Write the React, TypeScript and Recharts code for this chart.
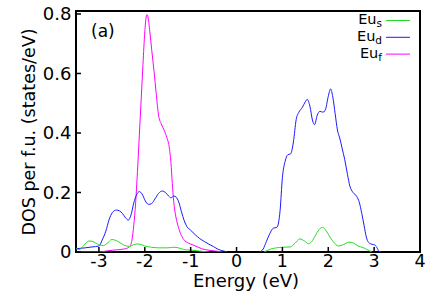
import React from 'react';
import { LineChart, Line, XAxis, YAxis, ReferenceArea } from 'recharts';

const xTicks = [-3, -2, -1, 0, 1, 2, 3, 4];
const yTicks = [0, 0.2, 0.4, 0.6, 0.8];

// Eu f states (magenta)
const fE = [-3.5, -3.0, -2.85, -2.7, -2.5, -2.4, -2.33, -2.28, -2.24, -2.2, -2.16, -2.12, -2.08, -2.04, -2.0, -1.97, -1.95, -1.93, -1.89, -1.85, -1.8, -1.75, -1.7, -1.64, -1.58, -1.52, -1.47, -1.43, -1.4, -1.37, -1.33, -1.28, -1.22, -1.15, -1.05, -0.97, -0.85, -0.76, -0.6, -0.45, -0.3];
const fV = [0, 0, 0.003, 0.006, 0.009, 0.012, 0.018, 0.04, 0.09, 0.165, 0.27, 0.39, 0.51, 0.63, 0.74, 0.79, 0.798, 0.79, 0.74, 0.68, 0.61, 0.53, 0.46, 0.43, 0.41, 0.385, 0.355, 0.3, 0.23, 0.17, 0.125, 0.09, 0.062, 0.042, 0.03, 0.025, 0.017, 0.011, 0.006, 0.003, 0];

// Eu d states (blue), below and above the gap
const dE1 = [-3.5, -3.3, -3.15, -3.0, -2.93, -2.85, -2.78, -2.71, -2.62, -2.55, -2.49, -2.42, -2.36, -2.3, -2.24, -2.18, -2.12, -2.06, -1.99, -1.92, -1.85, -1.78, -1.7, -1.62, -1.55, -1.48, -1.43, -1.37, -1.32, -1.26, -1.2, -1.14, -1.08, -1.0, -0.9, -0.8, -0.7, -0.6, -0.5, -0.4, -0.3, -0.2];
const dV1 = [0.011, 0.014, 0.017, 0.02, 0.04, 0.07, 0.108, 0.132, 0.141, 0.138, 0.13, 0.115, 0.107, 0.125, 0.165, 0.192, 0.203, 0.195, 0.172, 0.16, 0.163, 0.178, 0.197, 0.205, 0.2, 0.188, 0.182, 0.188, 0.185, 0.168, 0.135, 0.105, 0.085, 0.073, 0.058, 0.045, 0.035, 0.026, 0.018, 0.009, 0.004, 0];
const dE2 = [0.5, 0.58, 0.65, 0.72, 0.8, 0.88, 0.95, 1.0, 1.06, 1.12, 1.18, 1.24, 1.3, 1.36, 1.43, 1.5, 1.54, 1.6, 1.66, 1.7, 1.76, 1.82, 1.88, 1.93, 2.0, 2.05, 2.1, 2.15, 2.2, 2.25, 2.3, 2.36, 2.42, 2.47, 2.54, 2.62, 2.68, 2.73, 2.78, 2.83, 2.88, 2.95, 3.01, 3.06, 3.1, 3.15];
const dV2 = [0, 0.01, 0.035, 0.06, 0.08, 0.083, 0.14, 0.25, 0.305, 0.327, 0.33, 0.37, 0.445, 0.47, 0.485, 0.505, 0.513, 0.49, 0.44, 0.428, 0.46, 0.473, 0.47, 0.475, 0.523, 0.548, 0.52, 0.465, 0.41, 0.383, 0.35, 0.31, 0.26, 0.222, 0.2, 0.187, 0.165, 0.13, 0.09, 0.05, 0.032, 0.026, 0.024, 0.015, 0.003, 0];

// Eu s states (green)
const sE1 = [-3.5, -3.43, -3.33, -3.22, -3.15, -3.07, -3.0, -2.9, -2.8, -2.72, -2.65, -2.57, -2.49, -2.4, -2.33, -2.25, -2.18, -2.1, -2.0, -1.85, -1.7, -1.5, -1.38, -1.3, -1.2, -1.1, -0.97, -0.8, -0.6];
const sV1 = [0.011, 0.008, 0.022, 0.037, 0.036, 0.03, 0.024, 0.022, 0.032, 0.042, 0.04, 0.034, 0.026, 0.02, 0.019, 0.024, 0.027, 0.026, 0.02, 0.016, 0.014, 0.014, 0.016, 0.015, 0.011, 0.007, 0.006, 0.003, 0];
const sE2 = [0.6, 0.75, 1.0, 1.17, 1.28, 1.38, 1.48, 1.57, 1.64, 1.71, 1.8, 1.87, 1.96, 2.05, 2.12, 2.22, 2.33, 2.45, 2.55, 2.65, 2.76, 2.87, 2.95];
const sV2 = [0, 0.01, 0.016, 0.017, 0.03, 0.044, 0.037, 0.028, 0.035, 0.053, 0.075, 0.083, 0.07, 0.047, 0.033, 0.02, 0.025, 0.033, 0.03, 0.02, 0.015, 0.006, 0];

const zip = (xs: number[], ys: number[]) => xs.map((x, i) => ({ x, y: ys[i] }));

const FONT = '"DejaVu Sans", sans-serif';
const GREEN = '#22dd22';
const BLUE = '#1a1aff';
const MAGENTA = '#ff00ff';

const series = [
  { key: 'f', data: zip(fE, fV), color: MAGENTA },
  { key: 'd1', data: zip(dE1, dV1), color: BLUE },
  { key: 'd2', data: zip(dE2, dV2), color: BLUE },
  { key: 's1', data: zip(sE1, sV1), color: GREEN },
  { key: 's2', data: zip(sE2, sV2), color: GREEN },
];

const legend = [
  { sub: 's', color: GREEN },
  { sub: 'd', color: BLUE },
  { sub: 'f', color: MAGENTA },
];

const tickStyle = { fill: '#000', fontSize: 17.5, fontFamily: FONT };

export default function App() {
  return (
    <div style={{ position: 'absolute', left: 0, top: 0, width: 436, height: 294, background: '#fff' }}>
      <LineChart width={436} height={294} margin={{ top: 11, right: 16, bottom: 0, left: 0 }}>
        <XAxis
          type="number"
          dataKey="x"
          domain={[-3.5, 4]}
          ticks={xTicks}
          allowDataOverflow
          height={42}
          axisLine={false}
          tickSize={-5}
          tickMargin={7.5}
          tickLine={{ stroke: '#000', strokeWidth: 1.5 }}
          tick={tickStyle}
        />
        <YAxis
          type="number"
          dataKey="y"
          domain={[0, 0.81]}
          ticks={yTicks}
          allowDataOverflow
          width={76}
          axisLine={false}
          tickSize={-5}
          tickMargin={9.5}
          tickLine={{ stroke: '#000', strokeWidth: 1.5 }}
          tick={{ ...tickStyle, fontSize: 18 }}
        />
        {series.map((s) => (
          <Line
            key={s.key}
            data={s.data}
            dataKey="y"
            type="monotone"
            stroke={s.color}
            strokeWidth={1}
            dot={false}
            activeDot={false}
            isAnimationActive={false}
          />
        ))}
        <ReferenceArea x1={-3.5} x2={4} y1={0} y2={0.81} fill="none" stroke="#000" strokeWidth={2} ifOverflow="visible" />
      </LineChart>
      <svg width={436} height={294} style={{ position: 'absolute', left: 0, top: 0, pointerEvents: 'none' }} fontFamily={FONT}>
        <text x={91} y={37} fontSize={17} fill="#000">(a)</text>
        <text x={246} y={287} fontSize={18} textAnchor="middle" fill="#000">Energy (eV)</text>
        <text x={35} y={132} fontSize={17.5} textAnchor="middle" fill="#000" transform="rotate(-90 35 132)">
          DOS per f.u. (states/eV)
        </text>
        {legend.map((l, i) => {
          const ly = 20.5 + i * 16.8;
          return (
            <g key={l.sub}>
              <text x={382} y={ly + 3.8} fontSize={14.5} textAnchor="end" fill="#000">
                Eu<tspan fontSize={10.5} dy={2.8}>{l.sub}</tspan>
              </text>
              <line x1={386} x2={410} y1={ly} y2={ly} stroke={l.color} strokeWidth={1} />
            </g>
          );
        })}
      </svg>
    </div>
  );
}
